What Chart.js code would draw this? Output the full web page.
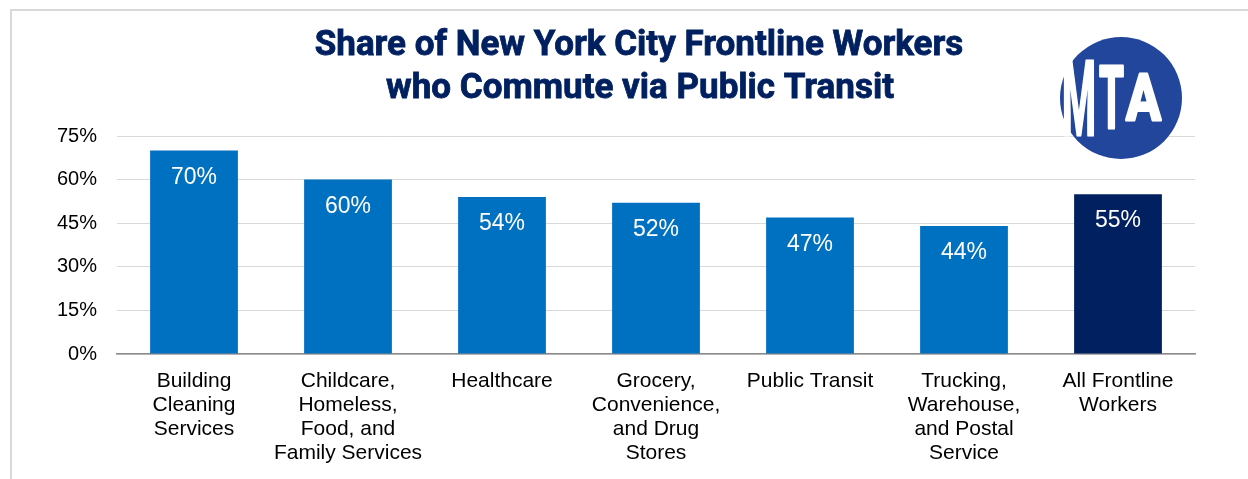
<!DOCTYPE html>
<html>
<head>
<meta charset="utf-8">
<script src="https://cdn.jsdelivr.net/npm/chart.js@4/dist/chart.umd.min.js"></script>
<style>
  html, body { margin: 0; padding: 0; background: #fff; overflow: hidden; }
  .frame { position: absolute; left: 10px; top: 9px; width: 1300px; height: 520px;
           border-top: 2px solid #d9d9d9; border-left: 2px solid #d9d9d9; }
  canvas { position: absolute; left: 0; top: 0; }
</style>
</head>
<body>
<div class="frame"></div>
<canvas id="shareChart" width="1248" height="479"></canvas>
<script>
// Share of NYC frontline workers who commute via public transit
const categories = [
  ['Building', 'Cleaning', 'Services'],
  ['Childcare,', 'Homeless,', 'Food, and', 'Family Services'],
  'Healthcare',
  ['Grocery,', 'Convenience,', 'and Drug', 'Stores'],
  'Public Transit',
  ['Trucking,', 'Warehouse,', 'and Postal', 'Service'],
  ['All Frontline', 'Workers'],
];
const shares = [70, 60, 54, 52, 47, 44, 55];
const yTicks = [0, 15, 30, 45, 60, 75];
const titleLines = ['Share of New York City Frontline Workers', 'who Commute via Public Transit'];

const BLUE = '#0070C0';
const NAVY = '#002060';
const MTA_BLUE = '#21469b';
const GRID = '#d9d9d9';
const TEXT = '#000000';
const SANS = '"Liberation Sans", Arial, sans-serif';

// title + logo drawn on top of the chart
const decorations = {
  id: 'decorations',
  afterDraw(chart) {
    const ctx = chart.ctx;
    ctx.save();
    ctx.fillStyle = NAVY;
    ctx.strokeStyle = NAVY;
    ctx.lineWidth = 0.8;
    ctx.textAlign = 'center';
    ctx.textBaseline = 'alphabetic';
    ctx.font = 'bold 35px Roboto, sans-serif';
    ctx.fillText(titleLines[0], 639, 55, 672);
    ctx.strokeText(titleLines[0], 639, 55, 672);
    ctx.fillText(titleLines[1], 640, 98, 523);
    ctx.strokeText(titleLines[1], 640, 98, 523);

    // MTA roundel
    ctx.fillStyle = MTA_BLUE;
    ctx.beginPath();
    ctx.arc(1121, 98, 61, 0, Math.PI * 2);
    ctx.fill();
    ctx.fillStyle = '#fff';
    ctx.strokeStyle = '#fff';
    ctx.lineWidth = 3;
    ctx.lineJoin = 'round';
    ctx.textAlign = 'left';
    const letters = [['M', 104, 1062, 135, 34], ['T', 88, 1099, 128, 25], ['A', 64, 1126, 120, 35]];
    letters.forEach(([ch, size, x, y, w]) => {
      ctx.font = 'bold ' + size + 'px Roboto, sans-serif';
      ctx.fillText(ch, x, y, w);
      ctx.strokeText(ch, x, y, w);
    });
    ctx.restore();
  },
};

// value labels inside the top of each bar
const valueLabels = {
  id: 'valueLabels',
  afterDatasetsDraw(chart) {
    const ctx = chart.ctx;
    const meta = chart.getDatasetMeta(0);
    ctx.save();
    ctx.fillStyle = '#fff';
    ctx.font = '23px ' + SANS;
    ctx.textAlign = 'center';
    ctx.textBaseline = 'middle';
    meta.data.forEach((bar, i) => {
      ctx.fillText(shares[i] + '%', bar.x, bar.y + 27);
    });
    ctx.restore();
  },
};

new Chart(document.getElementById('shareChart'), {
  type: 'bar',
  data: {
    labels: categories,
    datasets: [{
      data: shares,
      backgroundColor: (c) => (c.dataIndex === categories.length - 1 ? NAVY : BLUE),
      categoryPercentage: 1,
      barPercentage: 0.57,
    }],
  },
  options: {
    responsive: false,
    animation: false,
    layout: { padding: { left: 0, right: 53, top: 136, bottom: 0 } },
    plugins: {
      legend: { display: false },
      title: { display: false },
      tooltip: { enabled: false },
    },
    scales: {
      x: {
        grid: { display: false, drawTicks: false },
        border: { display: true, color: '#8c8c8c', width: 1.5 },
        ticks: { color: TEXT, font: { family: SANS, size: 21, lineHeight: 1.15 }, padding: 15, maxRotation: 0, autoSkip: false },
        afterFit: (scale) => { scale.height = 125; },
      },
      y: {
        min: 0,
        max: 75,
        afterBuildTicks: (scale) => { scale.ticks = yTicks.map((v) => ({ value: v })); },
        grid: { color: GRID, lineWidth: 1, drawTicks: false },
        border: { display: false },
        ticks: { color: TEXT, font: { family: SANS, size: 20 }, padding: 20, callback: (v) => v + '%' },
        afterFit: (scale) => { scale.width = 117; },
      },
    },
  },
  plugins: [decorations, valueLabels],
});
</script>
</body>
</html>
